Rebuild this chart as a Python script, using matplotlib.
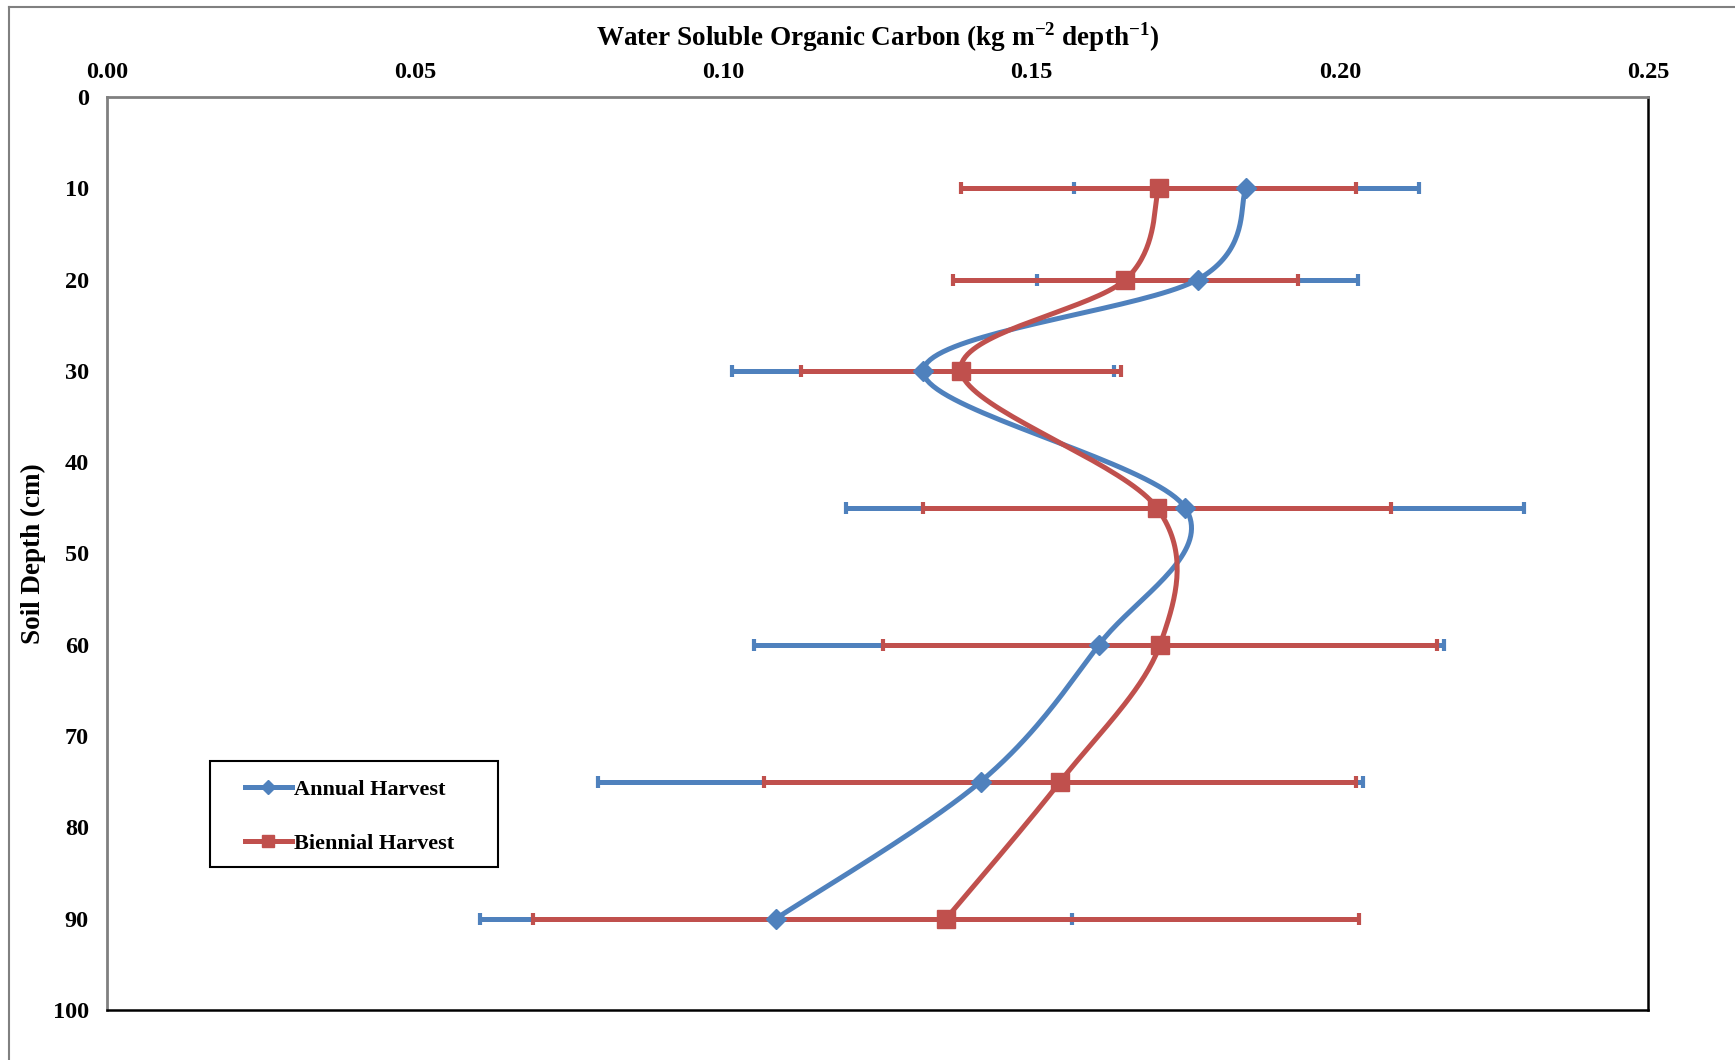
import matplotlib.pyplot as plt
from matplotlib.lines import Line2D
from matplotlib.patches import Rectangle
import numpy as np

# ==========================================
# Data
# ==========================================
depth = [10, 20, 30, 45, 60, 75, 90]

annual = [0.1848, 0.1769, 0.1324, 0.1749, 0.1609, 0.1417, 0.1085]
annual_err = [0.028, 0.026, 0.031, 0.055, 0.056, 0.062, 0.048]

biennial = [0.1706, 0.1652, 0.1385, 0.1703, 0.1708, 0.1546, 0.1361]
biennial_err = [0.032, 0.028, 0.026, 0.038, 0.045, 0.048, 0.067]

x_ticks = [0.00, 0.05, 0.10, 0.15, 0.20, 0.25]
y_ticks = [0, 10, 20, 30, 40, 50, 60, 70, 80, 90, 100]

c_annual = '#4F81BD'
c_biennial = '#C0504D'


def smooth(xs, ys, n=40):
    # Excel-style smoothed line: Catmull-Rom through the points (Bezier form)
    p = np.column_stack([xs, ys]).astype(float)
    out = []
    for i in range(len(p) - 1):
        p0 = p[i - 1] if i > 0 else p[i]
        p1, p2 = p[i], p[i + 1]
        p3 = p[i + 2] if i + 2 < len(p) else p[i + 1]
        c1 = p1 + (p2 - p0) / 6.0
        c2 = p2 - (p3 - p1) / 6.0
        t = np.linspace(0, 1, n)[:, None]
        seg = ((1 - t) ** 3) * p1 + 3 * ((1 - t) ** 2) * t * c1 + 3 * (1 - t) * t ** 2 * c2 + t ** 3 * p2
        out.append(seg if i == 0 else seg[1:])
    s = np.vstack(out)
    return s[:, 0], s[:, 1]


# ==========================================
# Plotting
# ==========================================
plt.rcParams['font.family'] = 'Liberation Serif'
plt.rcParams['font.weight'] = 'bold'
plt.rcParams['mathtext.fontset'] = 'custom'
plt.rcParams['mathtext.rm'] = 'Liberation Serif:bold'
plt.rcParams['mathtext.bf'] = 'Liberation Serif:bold'

lw = 3.6

fig = plt.figure(figsize=(17.35, 10.60), dpi=100)
ax = fig.add_axes([0.0617, 0.0472, 0.8883, 0.8613])

# error bars (under the lines)
ax.errorbar(annual, depth, xerr=annual_err, fmt='none', ecolor=c_annual,
            elinewidth=lw, capsize=4, capthick=3, zorder=2)
ax.errorbar(biennial, depth, xerr=biennial_err, fmt='none', ecolor=c_biennial,
            elinewidth=lw, capsize=4, capthick=3, zorder=3)

# smoothed lines
sx, sy = smooth(annual, depth)
ax.plot(sx, sy, color=c_annual, lw=lw, zorder=4, solid_capstyle='round')
sx, sy = smooth(biennial, depth)
ax.plot(sx, sy, color=c_biennial, lw=lw, zorder=5, solid_capstyle='round')

# markers
ax.plot(annual, depth, linestyle='none', marker='D', markersize=10,
        color=c_annual, zorder=6)
ax.plot(biennial, depth, linestyle='none', marker='s', markersize=13,
        color=c_biennial, zorder=6)

ax.set_xlim(0, 0.25)
ax.set_ylim(100, 0)
ax.set_xticks(x_ticks)
ax.set_xticklabels([f'{v:.2f}' for v in x_ticks])
ax.set_yticks(y_ticks)
ax.set_yticklabels([str(v) for v in y_ticks])
ax.xaxis.tick_top()
ax.xaxis.set_label_position('top')
ax.tick_params(axis='x', length=0, pad=10, labelsize=17.5)
ax.tick_params(axis='y', length=0, pad=13, labelsize=17.5)

ax.set_xlabel('Water Soluble Organic Carbon (kg m$^{-2}$ depth$^{-1}$)',
              fontsize=19.5, fontweight='bold', labelpad=12)
ax.set_ylabel('Soil Depth (cm)', fontsize=19.5, fontweight='bold', labelpad=5)

for side in ['left', 'top']:
    ax.spines[side].set_color('#808080')
    ax.spines[side].set_linewidth(2)
for side in ['right', 'bottom']:
    ax.spines[side].set_color('black')
    ax.spines[side].set_linewidth(1.8)

# legend: box drawn separately so the inner padding can match
ax.add_patch(Rectangle((0.0668, 0.1566), 0.187, 0.116, transform=ax.transAxes,
                       facecolor='white', edgecolor='black', lw=1.5, zorder=7))
handles = [Line2D([], [], color=c_annual, lw=lw, marker='D', markersize=7),
           Line2D([], [], color=c_biennial, lw=lw, marker='s', markersize=9)]
leg = ax.legend(handles, ['Annual Harvest', 'Biennial Harvest'],
                loc='upper left', bbox_to_anchor=(0.0895, 0.2525),
                fontsize=16, frameon=False,
                handlelength=2.1, handletextpad=0.1, labelspacing=1.5,
                borderpad=0, borderaxespad=0)
leg.set_zorder(8)

# outer frame of the chart area
fig.add_artist(Line2D([9 / 1735, 9 / 1735], [0, 1 - 7 / 1060],
                      color='#808080', lw=1.5, transform=fig.transFigure))
fig.add_artist(Line2D([9 / 1735, 1], [1 - 7 / 1060, 1 - 7 / 1060],
                      color='#808080', lw=1.5, transform=fig.transFigure))

plt.savefig('out.png', dpi=100)
